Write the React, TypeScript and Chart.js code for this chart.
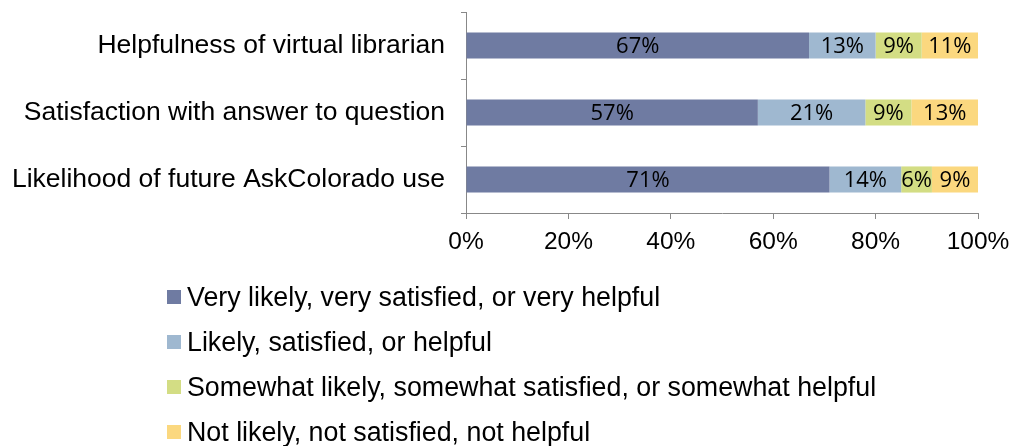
import React, { useEffect, useRef } from "react";
import { Chart, registerables } from "chart.js";

Chart.register(...registerables);

const categories = [
  "Helpfulness of virtual librarian",
  "Satisfaction with answer to question",
  "Likelihood of future AskColorado use",
];
const seriesNames = [
  "Very likely, very satisfied, or very helpful",
  "Likely, satisfied, or helpful",
  "Somewhat likely, somewhat satisfied, or somewhat helpful",
  "Not likely, not satisfied, not helpful",
];
const veryValues = [67, 57, 71];
const likelyValues = [13, 21, 14];
const somewhatValues = [9, 9, 6];
const notValues = [11, 13, 9];
const xTicks = ["0%", "20%", "40%", "60%", "80%", "100%"];
const colors = ["#6F7BA2", "#9FB8D0", "#D3DD84", "#FBD87F"];

const LABEL_FONT = "Liberation Sans, Arial, sans-serif";
const DATA_FONT = "Open Sans, Noto Sans, sans-serif";

const dataLabelPlugin = {
  id: "dataLabels",
  afterDatasetsDraw(chart: any) {
    const ctx = chart.ctx;
    ctx.save();
    ctx.fillStyle = "#000";
    ctx.font = `22px ${DATA_FONT}`;
    ctx.textAlign = "center";
    ctx.textBaseline = "middle";
    chart.data.datasets.forEach((ds: any, di: number) => {
      const meta = chart.getDatasetMeta(di);
      meta.data.forEach((bar: any, i: number) => {
        const { x, base, y } = bar.getProps(["x", "base", "y"], true);
        ctx.fillText(`${ds.data[i]}%`, (x + base) / 2, y + 1);
      });
    });
    ctx.restore();
  },
};

const legendPlugin = {
  id: "customLegend",
  afterDraw(chart: any) {
    const ctx = chart.ctx;
    ctx.save();
    ctx.font = `26.8px ${LABEL_FONT}`;
    ctx.textBaseline = "alphabetic";
    ctx.textAlign = "left";
    const startBaseline = 306;
    const step = 45;
    chart.data.datasets.forEach((ds: any, i: number) => {
      const base = startBaseline + i * step;
      ctx.fillStyle = ds.backgroundColor;
      ctx.fillRect(167, base - 16, 14, 14);
      ctx.fillStyle = "#000";
      ctx.fillText(ds.label, 187, base);
    });
    ctx.restore();
  },
};

export default function App() {
  const ref = useRef<HTMLCanvasElement>(null);
  useEffect(() => {
    const values = [veryValues, likelyValues, somewhatValues, notValues];
    const chart = new Chart(ref.current!, {
      type: "bar",
      data: {
        labels: categories,
        datasets: seriesNames.map((name, i) => ({
          label: name,
          data: values[i],
          backgroundColor: colors[i],
          borderWidth: 0,
          barPercentage: 0.39,
          categoryPercentage: 1,
        })),
      },
      options: {
        indexAxis: "y",
        animation: false,
        responsive: false,
        maintainAspectRatio: false,
        layout: { padding: { top: 12, right: 35, left: 0, bottom: 0 } },
        plugins: { legend: { display: false }, tooltip: { enabled: false } },
        scales: {
          x: {
            stacked: true,
            min: 0,
            max: 100,
            afterFit(scale: any) {
              scale.height = 233;
              scale.paddingLeft = 0;
              scale.paddingRight = 0;
            },
            border: { color: "#888888", width: 1 },
            grid: {
              drawOnChartArea: false,
              drawTicks: true,
              tickLength: 6,
              color: "#888888",
            },
            ticks: {
              stepSize: 20,
              color: "#000",
              padding: 9,
              maxRotation: 0,
              font: { size: 24.5, family: LABEL_FONT },
              callback: (_v: any, idx: number) => xTicks[idx],
            },
          },
          y: {
            stacked: true,
            afterFit(scale: any) {
              scale.width = 466;
              scale.paddingTop = 0;
              scale.paddingBottom = 0;
            },
            border: { color: "#888888", width: 1 },
            grid: {
              drawOnChartArea: false,
              drawTicks: true,
              tickLength: 5,
              color: "#888888",
              offset: true,
            },
            ticks: {
              color: "#000",
              padding: 16,
              font: { size: 26.5, family: LABEL_FONT },
            },
          },
        },
      },
      plugins: [dataLabelPlugin, legendPlugin],
    } as any);
    return () => chart.destroy();
  }, []);
  return (
    <div style={{ position: "fixed", left: 0, top: 0, width: 1013, height: 446, background: "#fff" }}>
      <canvas ref={ref} width={1013} height={446} style={{ display: "block" }} />
    </div>
  );
}
